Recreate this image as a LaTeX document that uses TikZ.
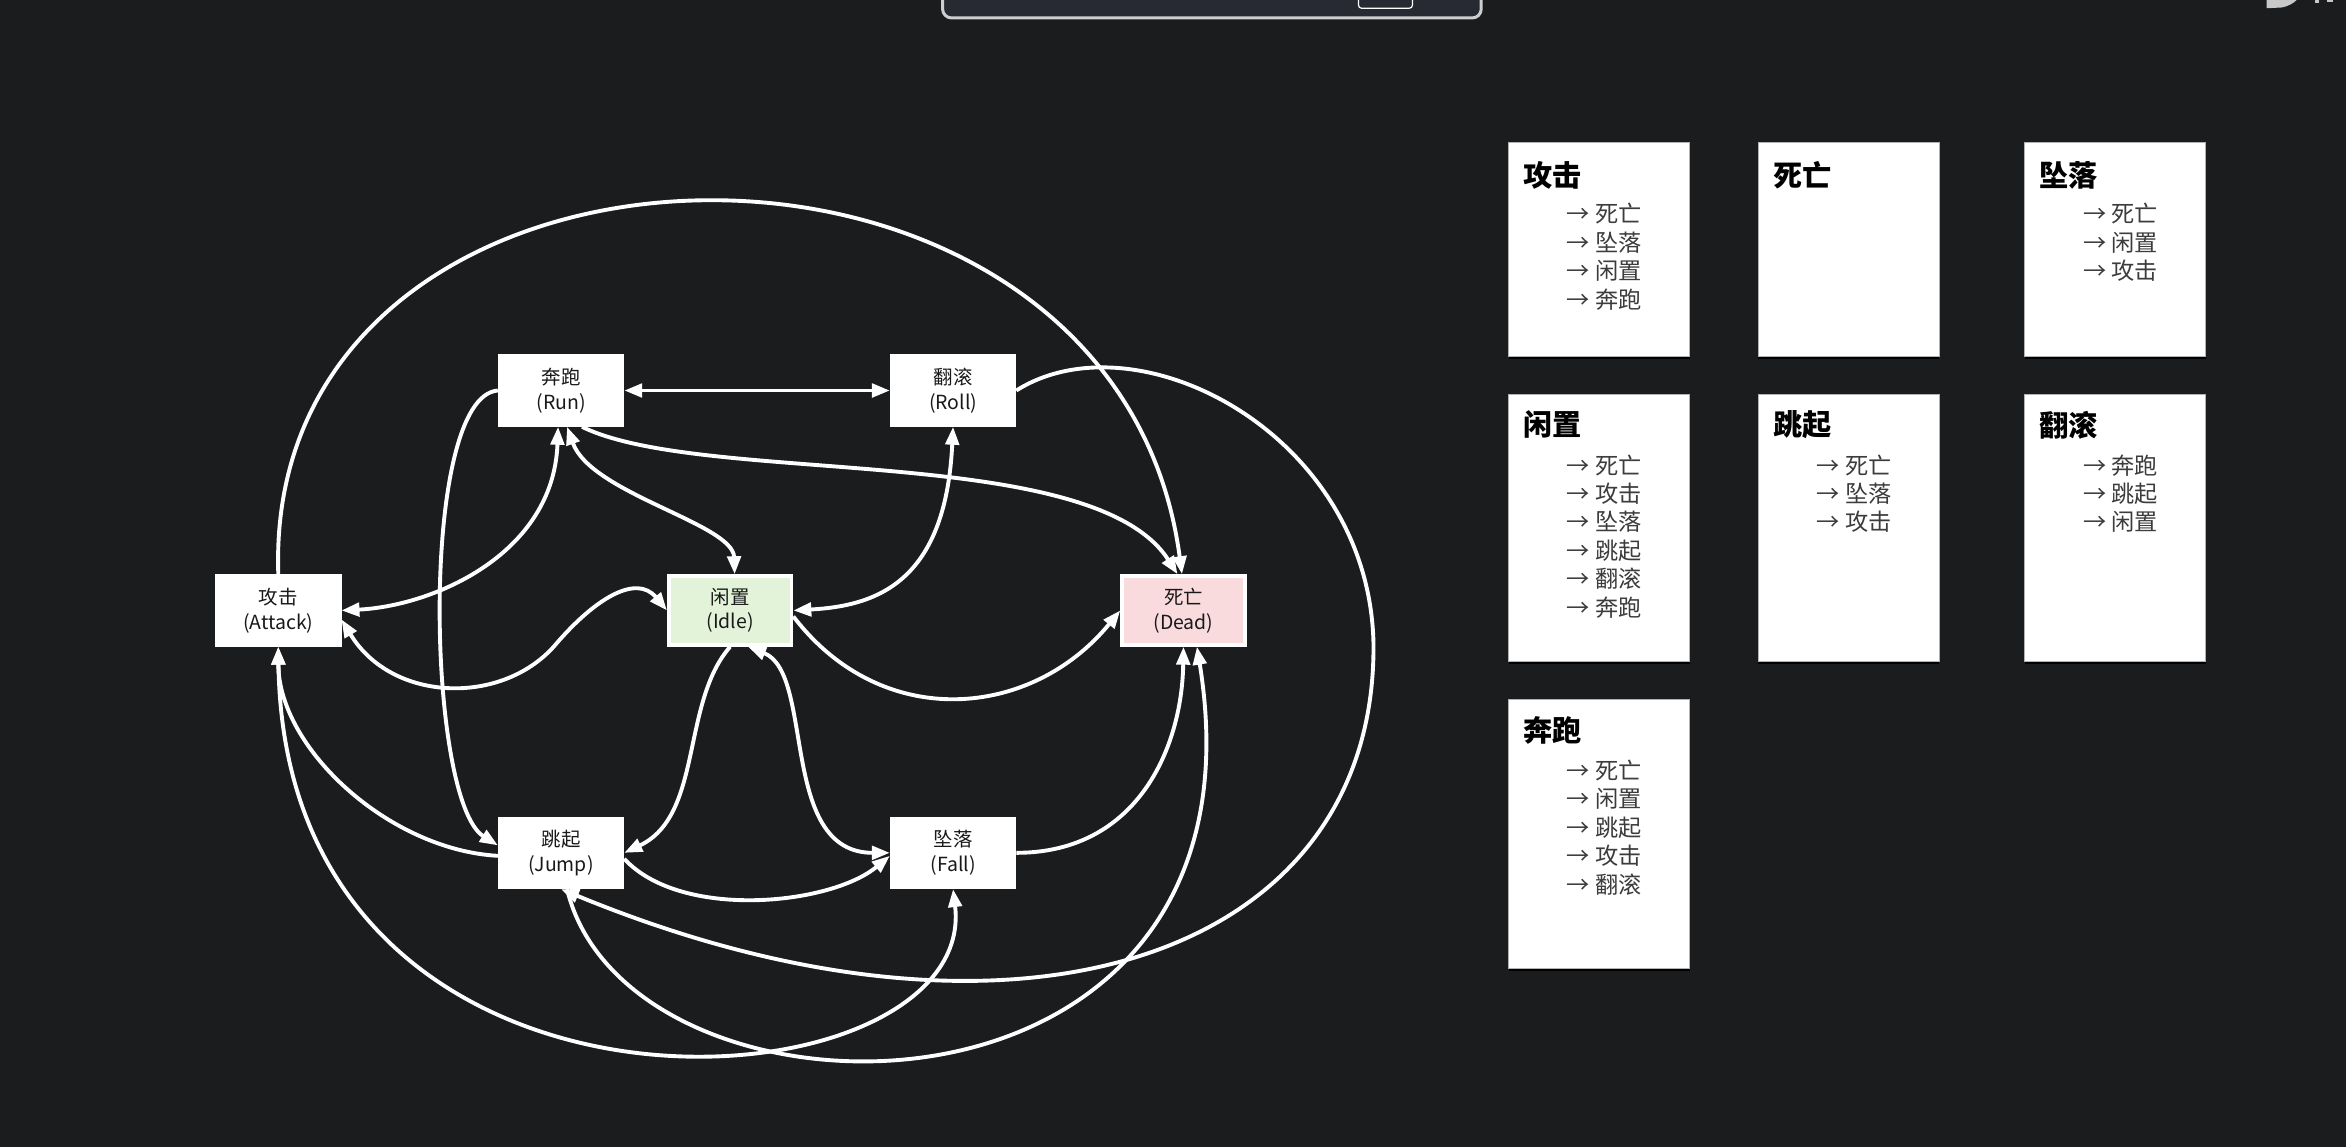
\documentclass[tikz,border=0pt]{standalone}
\usepackage{fontspec}
\setmainfont{Noto Sans CJK SC}
\usetikzlibrary{positioning, arrows.meta, shadows}

\definecolor{canvas}{RGB}{27,28,30}
\definecolor{idlefill}{RGB}{226,243,218}
\definecolor{deadfill}{RGB}{249,219,221}
\definecolor{itemgray}{RGB}{60,60,60}
\definecolor{barfill}{RGB}{39,42,51}
\definecolor{barrim}{RGB}{205,206,208}
\definecolor{uigray}{RGB}{200,200,200}

\begin{document}
\begin{tikzpicture}[
    x=1pt, y=-1pt,
    >={Triangle[length=12pt, width=9pt]},
    state/.style={rectangle, draw=white, fill=white, line width=2.5pt, minimum width=82pt, minimum height=46pt, align=center, text=black!90, font=\fontsize{13}{16.5}\selectfont},
    link/.style={draw=white, line width=2.6pt},
    card/.style={rectangle, draw=gray!60, fill=white, line width=0.5pt, anchor=north west, inner sep=0pt, minimum width=121pt, drop shadow={shadow xshift=0pt, shadow yshift=-1.5pt, fill=black, opacity=0.9}},
    cardtitle/.style={anchor=west, inner sep=0pt, font=\fontsize{19.5}{21}\selectfont\bfseries},
    carditem/.style={anchor=west, inner sep=0pt, text=itemgray, font=\fontsize{15.5}{17}\selectfont}
]

% Canvas
\useasboundingbox (0,0) rectangle (1568,766.6);
\fill[canvas] (0,0) rectangle (1568,766.6);

% Window bits at the top
\draw[draw=barrim, fill=barfill, line width=2pt, rounded corners=6pt] (630,-12) rectangle (990,12);
\draw[white, line width=0.8pt, rounded corners=2pt] (908,-6) rectangle (944,5.5);
\fill[uigray] (1515,0) -- (1515,5.5) -- (1525,5) .. controls (1530,4) and (1533,2) .. (1535,0) -- cycle;
\fill[uigray] (1547,0) rectangle (1550,2.2);
\fill[uigray] (1555,0) rectangle (1559,1.2);

% States
\node[state] (attack) at (186,408) {攻击\\(Attack)};
\node[state] (run) at (375,261) {奔跑\\(Run)};
\node[state] (roll) at (637,261) {翻滚\\(Roll)};
\node[state, fill=idlefill] (idle) at (488,408) {闲置\\(Idle)};
\node[state, fill=deadfill] (dead) at (791,408) {死亡\\(Dead)};
\node[state] (jump) at (375,570) {跳起\\(Jump)};
\node[state] (fall) at (637,570) {坠落\\(Fall)};

\coordinate (loopeast) at (918,430);
\coordinate (hump) at (372,430);

% Transitions
\draw[link, <->] (run) -- (roll);
\draw[link, ->] (attack.north) .. controls (175,60) and (745,45) .. ([xshift=-1]dead.north);
\draw[link, <->] (attack.south) .. controls (190,780) and (655,745) .. (fall.south);
\draw[link, ->] ([yshift=-2]jump.west) .. controls (260,568) and (186,500) .. (attack.south);
\draw[link, ->] (run.west) .. controls (280,265) and (285,535) .. ([yshift=5]jump.west);
\draw[link, <->] ([xshift=-2]run.south) .. controls (370,370) and (290,405) .. (attack.east);
\draw[link, <->] ([xshift=4]run.south) .. controls (395,330) and (490,350) .. ([xshift=3]idle.north);
\draw[link, ->] ([xshift=14]run.south) .. controls (470,325) and (730,295) .. ([xshift=-4]dead.north);
\draw[link, <->] (roll.south) .. controls (632,390) and (585,405) .. (idle.east);
\draw[link, ->] (roll.east) .. controls (760,210) and (915,290) .. (loopeast) .. controls (920,640) and (680,720) .. (jump.south);
\draw[link, <->] ([yshift=-6]attack.east) .. controls (262,470) and (337,472) .. (hump) .. controls (397,401) and (425,383) .. (idle.west);
\draw[link, ->] ([yshift=-4]idle.east) .. controls (590,490) and (690,480) .. (dead.west);
\draw[link, ->] (idle.south) .. controls (455,470) and (470,545) .. (jump.east);
\draw[link, <->] ([xshift=12]idle.south) .. controls (545,450) and (520,570) .. (fall.west);
\draw[link, ->] ([yshift=-4]jump.east) .. controls (455,615) and (555,605) .. ([yshift=-2]fall.west);
\draw[link, ->] (fall.east) .. controls (760,570) and (790,500) .. (dead.south);
\draw[link, ->] ([xshift=4]jump.south) .. controls (420,765) and (855,770) .. ([xshift=9]dead.south);

% Cards
\node[card, minimum height=143pt] (atkcard) at (1008,95) {};
\node[cardtitle] (atktitle) at (1018,117) {攻击};
\foreach \s [count=\i from 0] in {死亡,坠落,闲置,奔跑}
  \node[carditem] (atk-\i) at (1047,143+19*\i) {→ \s};

\node[card, minimum height=143pt] (deadcard) at (1175,95) {};
\node[cardtitle] (deadtitle) at (1185,117) {死亡};

\node[card, minimum height=143pt] (fallcard) at (1353,95) {};
\node[cardtitle] (falltitle) at (1363,117) {坠落};
\foreach \s [count=\i from 0] in {死亡,闲置,攻击}
  \node[carditem] (fall-\i) at (1392,143+19*\i) {→ \s};

\node[card, minimum height=179pt] (idlecard) at (1008,263) {};
\node[cardtitle] (idletitle) at (1018,284) {闲置};
\foreach \s [count=\i from 0] in {死亡,攻击,坠落,跳起,翻滚,奔跑}
  \node[carditem] (idle-\i) at (1047,311+19*\i) {→ \s};

\node[card, minimum height=179pt] (jumpcard) at (1175,263) {};
\node[cardtitle] (jumptitle) at (1185,284) {跳起};
\foreach \s [count=\i from 0] in {死亡,坠落,攻击}
  \node[carditem] (jump-\i) at (1214,311+19*\i) {→ \s};

\node[card, minimum height=179pt] (rollcard) at (1353,263) {};
\node[cardtitle] (rolltitle) at (1363,284) {翻滚};
\foreach \s [count=\i from 0] in {奔跑,跳起,闲置}
  \node[carditem] (roll-\i) at (1392,311+19*\i) {→ \s};

\node[card, minimum height=180pt] (runcard) at (1008,467) {};
\node[cardtitle] (runtitle) at (1018,488) {奔跑};
\foreach \s [count=\i from 0] in {死亡,闲置,跳起,攻击,翻滚}
  \node[carditem] (run-\i) at (1047,515+19*\i) {→ \s};

\end{tikzpicture}
\end{document}
